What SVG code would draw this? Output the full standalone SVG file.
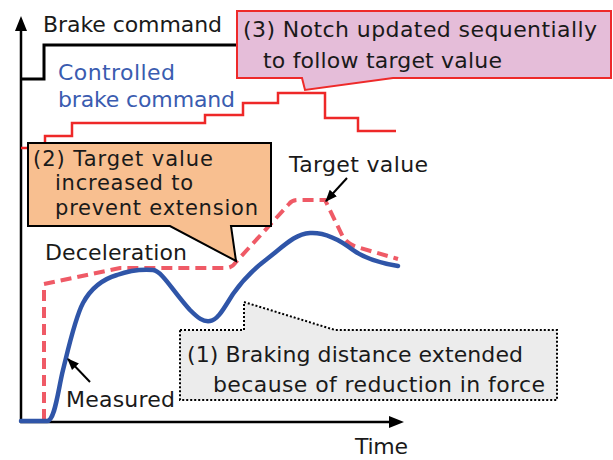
<svg xmlns="http://www.w3.org/2000/svg" width="613" height="460" viewBox="0 0 613 460">
<defs>
<style>
text{font-family:"DejaVu Sans","Liberation Sans",sans-serif;font-size:22px;fill:#1a1a1a}
.blue{fill:#3a5cb0}
.small{font-size:21px}
.axis{stroke:#000;stroke-width:2.5;fill:none}
.cmd{stroke:#000;stroke-width:3;fill:none}
.notch{stroke:#ee2828;stroke-width:2.5;fill:none}
.target{stroke:#ef5a66;stroke-width:4;fill:none;stroke-dasharray:11 6}
.meas{stroke:#2f55a8;stroke-width:4.5;fill:none;stroke-linecap:round}
.ptr{stroke:#000;stroke-width:2;fill:none}
</style>
<marker id="ahs" viewBox="0 0 10 10" refX="9" refY="5" markerWidth="12" markerHeight="12" orient="auto" markerUnits="userSpaceOnUse">
<path d="M0,1 L10,5 L0,9 Z" fill="#000"/>
</marker>
</defs>
<rect width="613" height="460" fill="#fff"/>
<g id="axes">
<line class="axis" x1="21" y1="423" x2="21" y2="29"/>
<polygon points="21,16 15,31 27,31" fill="#000"/>
<line class="axis" x1="20" y1="422" x2="392" y2="422"/>
<polygon points="404,422 389,416 389,428" fill="#000"/>
<text x="355" y="454" textLength="53" font-size="21">Time</text>
</g>
<g id="brake-command">
<path class="cmd" d="M21,79 H44 V45 H240"/>
<text x="43" y="32" textLength="179">Brake command</text>
</g>
<g id="controlled-brake-command">
<path class="notch" d="M21,148 H45 V136 H72 V123 H205 V115 H243 V103 H278 V93 H325 V118 H358 V131 H396"/>
<text class="blue" x="58" y="80" textLength="117">Controlled</text>
<text class="blue" x="58" y="107" textLength="177">brake command</text>
</g>
<g id="target-value">
<path class="target" d="M44,420 V284 L120,268 H226 Q232,268 236,262 L289,204 Q292,200 298,200 H325 L343,237 Q348,244 357,247 L398,259"/>
<text x="289" y="172" textLength="139">Target value</text>
</g>
<g id="measured">
<path class="meas" d="M21,421 H47 C55,421 58,390 63,370 C68,350 75,318 83,303 C90,290 100,280 117,275 C128,271 140,269 153,270 C162,271 172,290 190,310 C198,318 203,322 210,321 C218,320 224,308 233,294 C245,277 255,268 267,259 C285,245 295,234 310,233 C325,232 340,240 353,250 C365,259 380,263 398,266"/>
<text x="45" y="260" textLength="142">Deceleration</text>
<text x="66" y="407" textLength="109">Measured</text>
</g>
<g id="connectors">
<line class="ptr" x1="347" y1="178" x2="326" y2="201" marker-end="url(#ahs)"/>
<line class="ptr" x1="90" y1="382" x2="68" y2="359" marker-end="url(#ahs)"/>
</g>
<g id="callout-3">
<path d="M237,11 H611 V78 H393 L305,90 L302,78 H237 Z" fill="#e5bdd9" stroke="#ee2a2a" stroke-width="2"/>
<text x="243" y="37" textLength="354">(3)  Notch updated sequentially</text>
<text x="263" y="68" textLength="239">to follow target value</text>
</g>
<g id="callout-2">
<path d="M28,143 H271 V226 H231 L236,261 L170,226 H28 Z" fill="#f8bf90" stroke="#000" stroke-width="2"/>
<text class="small" x="33" y="166" textLength="180">(2) Target value</text>
<text class="small" x="55" y="190" textLength="138">increased to</text>
<text class="small" x="55" y="215" textLength="203">prevent extension</text>
</g>
<g id="callout-1">
<path d="M180,330 H244 V302 L335,330 H557 V400 H180 Z" fill="#ececec" stroke="#000" stroke-width="2" stroke-dasharray="2 2"/>
<text x="187" y="362" textLength="336">(1) Braking distance extended</text>
<text x="213" y="392" textLength="332">because of reduction in force</text>
</g>
</svg>
